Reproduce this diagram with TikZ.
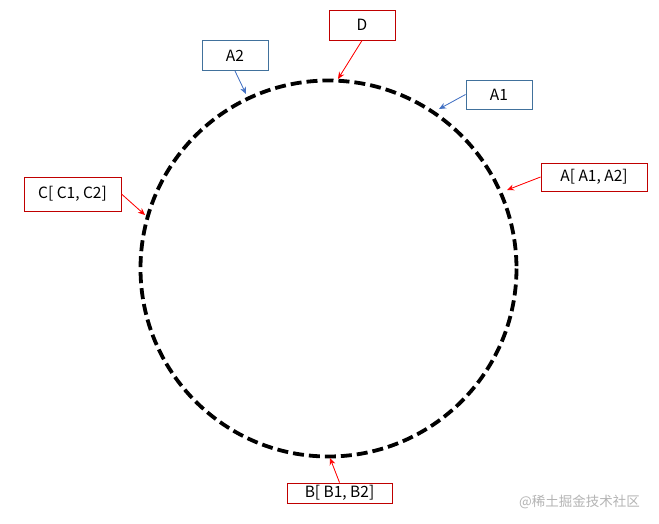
\documentclass[tikz,border=0pt]{standalone}
\usepackage{fontspec}
\setmainfont{Noto Sans CJK SC}
\usetikzlibrary{arrows.meta}
\definecolor{boxred}{HTML}{C00000}
\definecolor{arrred}{HTML}{FF0000}
\definecolor{boxblue}{HTML}{41719C}
\definecolor{arrblue}{HTML}{4472C4}
\definecolor{wmgrey}{HTML}{B4B4B4}
\tikzset{
  lbl/.style={draw, line width=1pt, fill=white, inner sep=0pt, font=\fontsize{15.5}{18}\selectfont},
  redbox/.style={lbl, draw=boxred},
  bluebox/.style={lbl, draw=boxblue},
  redarr/.style={draw=arrred, line width=0.8pt, -{Stealth[length=7pt,width=6pt]}, fill=arrred},
  bluearr/.style={draw=arrblue, line width=0.8pt, -{Stealth[length=7pt,width=6pt]}, fill=arrblue},
  ring/.style={line width=3.8pt, dash pattern=on 11pt off 5pt}
}
\begin{document}
\begin{tikzpicture}[x=1pt,y=-1pt]
\useasboundingbox (0,0) rectangle (659,523);
\fill[white] (0,0) rectangle (659,523);
\draw[ring] (328.5,268.5) circle [radius=188];
\node[redbox, minimum width=66pt, minimum height=30pt] (D) at (362,25) {D};
\node[bluebox, minimum width=66pt, minimum height=30pt] (A2) at (235,55.5) {A2};
\node[bluebox, minimum width=66pt, minimum height=29pt] (A1) at (499,94.5) {A1};
\node[redbox, minimum width=106pt, minimum height=28pt] (A) at (594,177) {A[ A1, A2]};
\node[redbox, minimum width=97pt, minimum height=34pt] (C) at (72.5,194) {C[ C1, C2]};
\node[redbox, minimum width=105pt, minimum height=20pt] (B) at (339.5,493) {B[ B1, B2]};
\coordinate (tD) at (338,79);
\coordinate (tA2) at (246,94);
\coordinate (tA1) at (439,109);
\coordinate (tA) at (507,190);
\coordinate (tC) at (145,215);
\coordinate (tB) at (330,458);
\draw[redarr] (D.south) -- (tD);
\draw[bluearr] (A2.south) -- (tA2);
\draw[bluearr] (A1.west) -- (tA1);
\draw[redarr] (A.west) -- (tA);
\draw[redarr] (C.east) -- (tC);
\draw[redarr] (B.north) -- (tB);
\node[text=wmgrey, inner sep=0pt, anchor=west, font=\fontsize{13.5}{16}\selectfont] (wm) at (519,502) {@稀土掘金技术社区};
\end{tikzpicture}
\end{document}
